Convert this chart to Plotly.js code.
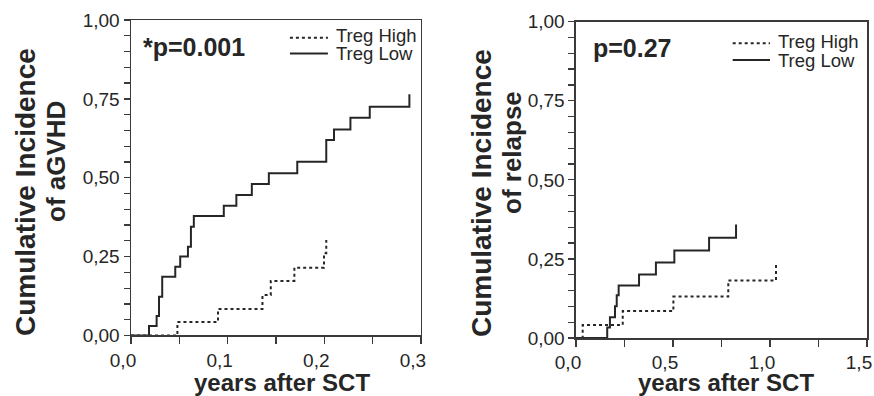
<!DOCTYPE html>
<html>
<head>
<meta charset="utf-8">
<script src="https://cdn.plot.ly/plotly-3.0.1.min.js"></script>
<style>html,body{margin:0;padding:0;background:#fff}#chart{width:874px;height:396px}</style>
</head>
<body>
<div id="chart"></div>
<script>
// ---- Data ----
// aGVHD panel (years after SCT, cumulative incidence)
var gvhdLowX  = [0, 0.0186, 0.0265, 0.029, 0.0323, 0.0458, 0.0509, 0.0589, 0.062, 0.065, 0.096, 0.109, 0.125, 0.1426, 0.172, 0.202, 0.210, 0.227, 0.247, 0.288];
var gvhdLowY  = [0, 0.030, 0.062, 0.123, 0.186, 0.218, 0.250, 0.281, 0.345, 0.379, 0.411, 0.445, 0.480, 0.514, 0.551, 0.620, 0.653, 0.690, 0.725, 0.765];
var gvhdHighX = [0, 0.048, 0.090, 0.136, 0.1446, 0.169, 0.1997, 0.202];
var gvhdHighY = [0, 0.043, 0.084, 0.128, 0.173, 0.215, 0.261, 0.303];
// relapse panel
var relLowX  = [0, 0.161, 0.175, 0.201, 0.210, 0.220, 0.325, 0.412, 0.507, 0.686, 0.825];
var relLowY  = [0, 0.0335, 0.066, 0.100, 0.135, 0.166, 0.201, 0.239, 0.277, 0.317, 0.359];
var relHighX = [0, 0.0345, 0.241, 0.502, 0.785, 1.031];
var relHighY = [0, 0.041, 0.085, 0.131, 0.182, 0.235];

var seriesNames = ['Treg High', 'Treg Low'];
var pLabels = ['*p=0.001', 'p=0.27'];
var yTitleLine1 = 'Cumulative Incidence';
var yTitleLine2 = ['of aGVHD', 'of relapse'];
var xTitle = 'years after SCT';

// tick positions (major + minor) and their labels
var yTickVals = [0, 0.05, 0.1, 0.15, 0.2, 0.25, 0.3, 0.35, 0.4, 0.45, 0.5, 0.55, 0.6, 0.65, 0.7, 0.75, 0.8, 0.85, 0.9, 0.95, 1];
var yTickText = ['0,00', '', '', '', '', '0,25', '', '', '', '', '0,50', '', '', '', '', '0,75', '', '', '', '', '1,00'];
var xTickValsL = [0, 0.05, 0.1, 0.15, 0.2, 0.25, 0.3];
var xTickTextL = ['0,0', '', '0,1', '', '0,2', '', '0,3'];
var xTickValsR = [0, 0.25, 0.5, 0.75, 1.0, 1.25, 1.5];
var xTickTextR = ['0,0', '', '0,5', '', '1,0', '', '1,5'];

// ---- Styling ----
var ink = '#262626';
var axisCol = '#3a3a3a';
var font = 'Liberation Sans, Arial, Helvetica, sans-serif';

function trace(x, y, dash, xa, ya, name) {
  return {x: x, y: y, mode: 'lines', type: 'scatter', name: name, xaxis: xa, yaxis: ya,
    line: {shape: 'hv', color: ink, width: 2, dash: dash}, showlegend: false, hoverinfo: 'x+y'};
}

var data = [
  trace(gvhdHighX, gvhdHighY, 'dot', 'x', 'y', seriesNames[0]),
  trace(gvhdLowX, gvhdLowY, 'solid', 'x', 'y', seriesNames[1]),
  trace(relHighX, relHighY, 'dot', 'x2', 'y2', seriesNames[0]),
  trace(relLowX, relLowY, 'solid', 'x2', 'y2', seriesNames[1])
];

function xaxis(domain, range, tv, tt, anchor) {
  return {domain: domain, range: range, anchor: anchor, tickmode: 'array', tickvals: tv, ticktext: tt,
    ticks: 'outside', ticklen: 7, tickwidth: 1.3, tickcolor: axisCol,
    showline: true, linecolor: axisCol, linewidth: 1.5, mirror: true, showgrid: false, zeroline: false,
    tickfont: {family: font, size: 19, color: ink}, ticklabelshift: -8,
    fixedrange: true};
}
function yaxis(domain, anchor) {
  return {domain: domain, range: [0, 1], anchor: anchor, tickmode: 'array', tickvals: yTickVals, ticktext: yTickText,
    ticks: 'outside', ticklen: 6, tickwidth: 1.3, tickcolor: axisCol,
    showline: true, linecolor: axisCol, linewidth: 1.5, mirror: true, showgrid: false, zeroline: false,
    tickfont: {family: font, size: 19, color: ink},
    fixedrange: true};
}

function legendItems(xa, ya, lx0, lx1, tx, yl1, yl2, yt1, yt2) {
  var xr = xa + ' domain', yr = ya + ' domain';
  return {
    shapes: [
      {type: 'line', xref: xr, yref: yr, x0: lx0, x1: lx1, y0: yl1, y1: yl1, line: {color: ink, width: 2, dash: 'dot'}},
      {type: 'line', xref: xr, yref: yr, x0: lx0, x1: lx1, y0: yl2, y1: yl2, line: {color: ink, width: 2}}
    ],
    annotations: [
      {xref: xr, yref: yr, x: tx, y: yt1, text: seriesNames[0], showarrow: false, xanchor: 'left', yanchor: 'middle',
        font: {family: font, size: 18.5, color: ink}},
      {xref: xr, yref: yr, x: tx, y: yt2, text: seriesNames[1], showarrow: false, xanchor: 'left', yanchor: 'middle',
        font: {family: font, size: 18.5, color: ink}}
    ]
  };
}

var legL = legendItems('x', 'y', 0.548, 0.679, 0.70, 0.944, 0.894, 0.950, 0.893);
var legR = legendItems('x2', 'y2', 0.5385, 0.6667, 0.688, 0.932, 0.879, 0.936, 0.877);

// axis titles (centre given in page pixels)
function pageText(text, cx, cy, size, angle) {
  return {xref: 'paper', yref: 'paper', x: (cx - 131) / 736, y: (338 - cy) / 318, text: '<b>' + text + '</b>',
    textangle: angle, showarrow: false, xanchor: 'center', yanchor: 'middle',
    font: {family: font, size: size, color: ink}};
}

var annotations = legL.annotations.concat(legR.annotations).concat([
  {xref: 'x domain', yref: 'y domain', x: 0.035, y: 0.915, text: '<b>' + pLabels[0] + '</b>', showarrow: false,
    xanchor: 'left', yanchor: 'middle', font: {family: font, size: 25, color: ink}},
  {xref: 'x2 domain', yref: 'y2 domain', x: 0.052, y: 0.916, text: '<b>' + pLabels[1] + '</b>', showarrow: false,
    xanchor: 'left', yanchor: 'middle', font: {family: font, size: 25, color: ink}},
  pageText(yTitleLine1, 25, 192, 28, -90),
  pageText(yTitleLine2[0], 56, 162, 26, -90),
  pageText(yTitleLine1, 481, 193, 28, -90),
  pageText(yTitleLine2[1], 512, 153, 26, -90),
  pageText(xTitle, 282, 382, 24, 0),
  pageText(xTitle, 726, 382, 24, 0)
]);

var layout = {
  width: 874, height: 396,
  margin: {l: 131, r: 7, t: 20, b: 58},
  paper_bgcolor: '#fff', plot_bgcolor: '#fff',
  showlegend: false,
  xaxis: xaxis([0, 0.394], [0, 0.3], xTickValsL, xTickTextL, 'y'),
  yaxis: yaxis([0.0079, 1], 'x'),
  xaxis2: xaxis([0.6046, 1], [0, 1.5], xTickValsR, xTickTextR, 'y2'),
  yaxis2: yaxis([0, 0.9947], 'x2'),
  shapes: legL.shapes.concat(legR.shapes),
  annotations: annotations
};

Plotly.newPlot('chart', data, layout, {displayModeBar: false, staticPlot: true});
</script>
</body>
</html>
